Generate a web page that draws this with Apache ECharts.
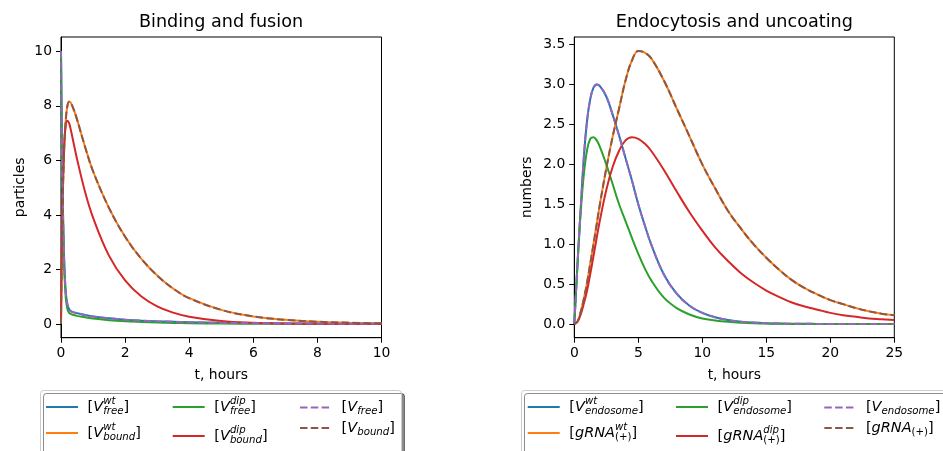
<!DOCTYPE html>
<html>
<head>
<meta charset="utf-8">
<script src="https://cdn.jsdelivr.net/npm/echarts@6/dist/echarts.min.js"></script>
<style>
html,body{margin:0;padding:0;background:#fff;}
#chart{width:943px;height:451px;}
</style>
</head>
<body>
<div id="chart"></div>
<script>
// ---------- data: Binding and fusion ----------
const leftT = [0, 0.02, 0.05, 0.1, 0.15, 0.2, 0.25, 0.3, 0.4, 0.5, 0.75, 1, 1.5, 2, 2.5, 3, 3.5, 4, 5, 6, 7, 8, 9, 10];
const leftVfreeWt  = [10, 7.5, 4.9, 2.3, 1.15, 0.72, 0.55, 0.48, 0.43, 0.40, 0.33, 0.28, 0.21, 0.16, 0.125, 0.10, 0.08, 0.065, 0.045, 0.032, 0.024, 0.018, 0.014, 0.011];
const leftVboundWt = [0, 2.1, 4.3, 6.45, 7.5, 8.0, 8.15, 8.12, 7.85, 7.5, 6.5, 5.6, 4.25, 3.2, 2.4, 1.78, 1.3, 0.95, 0.52, 0.28, 0.155, 0.085, 0.048, 0.027];
const leftVfreeDip = [10, 7.4, 4.7, 2.1, 0.95, 0.55, 0.42, 0.37, 0.33, 0.30, 0.25, 0.2, 0.14, 0.1, 0.075, 0.055, 0.042, 0.032, 0.019, 0.012, 0.008, 0.005, 0.003, 0.002];
const leftVboundDip = [0, 2.3, 4.6, 6.55, 7.3, 7.45, 7.37, 7.15, 6.6, 6.05, 4.85, 3.9, 2.5, 1.6, 1.02, 0.65, 0.42, 0.27, 0.11, 0.045, 0.02, 0.009, 0.004, 0.002];
const leftVfree  = [10, 7.5, 4.9, 2.3, 1.15, 0.72, 0.55, 0.48, 0.43, 0.40, 0.33, 0.28, 0.21, 0.16, 0.125, 0.10, 0.08, 0.065, 0.045, 0.032, 0.024, 0.018, 0.014, 0.011];
const leftVbound = [0, 2.1, 4.3, 6.45, 7.5, 8.0, 8.15, 8.12, 7.85, 7.5, 6.5, 5.6, 4.25, 3.2, 2.4, 1.78, 1.3, 0.95, 0.52, 0.28, 0.155, 0.085, 0.048, 0.027];
const leftXTicks = [0, 2, 4, 6, 8, 10];
const leftYTicks = [0, 2, 4, 6, 8, 10];

// ---------- data: Endocytosis and uncoating ----------
const rightT = [0, 0.25, 0.5, 0.75, 1, 1.25, 1.5, 1.75, 2, 2.5, 3, 3.5, 4, 4.5, 5, 5.5, 6, 7, 8, 9, 10, 11, 12, 13, 14, 15, 16, 17, 18, 19, 20, 21, 22, 23, 24, 25];
const rightVendoWt = [0, 0.75, 1.45, 2.1, 2.55, 2.82, 2.96, 3.0, 2.98, 2.85, 2.62, 2.36, 2.08, 1.8, 1.5, 1.24, 1.0, 0.62, 0.38, 0.23, 0.14, 0.085, 0.05, 0.03, 0.018, 0.011, 0.007, 0.004, 0.003, 0.002, 0.001, 0.001, 0.001, 0, 0, 0];
const rightGrnaWt = [0, 0.03, 0.15, 0.32, 0.52, 0.76, 1.0, 1.25, 1.5, 1.95, 2.35, 2.7, 3.05, 3.3, 3.42, 3.4, 3.33, 3.05, 2.7, 2.35, 2.0, 1.7, 1.42, 1.2, 1.0, 0.83, 0.68, 0.55, 0.45, 0.37, 0.3, 0.25, 0.2, 0.16, 0.13, 0.11];
const rightVendoDip = [0, 0.75, 1.4, 1.88, 2.18, 2.32, 2.34, 2.3, 2.22, 2.0, 1.75, 1.5, 1.29, 1.08, 0.88, 0.7, 0.55, 0.33, 0.2, 0.12, 0.07, 0.045, 0.028, 0.017, 0.01, 0.006, 0.004, 0.002, 0.001, 0, 0, 0, 0, 0, 0, 0];
const rightGrnaDip = [0, 0.03, 0.12, 0.26, 0.42, 0.63, 0.85, 1.08, 1.3, 1.68, 1.97, 2.17, 2.3, 2.34, 2.32, 2.26, 2.17, 1.93, 1.66, 1.4, 1.17, 0.96, 0.79, 0.64, 0.52, 0.42, 0.34, 0.27, 0.22, 0.18, 0.14, 0.11, 0.09, 0.07, 0.06, 0.05];
const rightVendo = [0, 0.75, 1.45, 2.1, 2.55, 2.82, 2.96, 3.0, 2.98, 2.85, 2.62, 2.36, 2.08, 1.8, 1.5, 1.24, 1.0, 0.62, 0.38, 0.23, 0.14, 0.085, 0.05, 0.03, 0.018, 0.011, 0.007, 0.004, 0.003, 0.002, 0.001, 0.001, 0.001, 0, 0, 0];
const rightGrna = [0, 0.03, 0.15, 0.32, 0.52, 0.76, 1.0, 1.25, 1.5, 1.95, 2.35, 2.7, 3.05, 3.3, 3.42, 3.4, 3.33, 3.05, 2.7, 2.35, 2.0, 1.7, 1.42, 1.2, 1.0, 0.83, 0.68, 0.55, 0.45, 0.37, 0.3, 0.25, 0.2, 0.16, 0.13, 0.11];
const rightXTicks = [0, 5, 10, 15, 20, 25];
const rightYTicks = [0, 0.5, 1.0, 1.5, 2.0, 2.5, 3.0, 3.5];

const titles = ['Binding and fusion', 'Endocytosis and uncoating'];
const xNames = ['t, hours', 't, hours'];
const yNames = ['particles', 'numbers'];

// ---------- styling ----------
const FONT = 'DejaVu Sans';
const C = {blue:'#1f77b4', orange:'#ff7f0e', green:'#2ca02c', red:'#d62728', purple:'#9467bd', brown:'#8c564b'};
const TICK_FS = 13.9;

const legendLabels = {
  L1: '{b| [}{v|V}{sp|wt}{sb|free}{b|]}',
  L2: '{b| [}{v|V}{sp|wt}{sb|bound}{b|]}',
  L3: '{b| [}{v|V}{sp|dip}{sb|free}{b|]}',
  L4: '{b| [}{v|V}{sp|dip}{sb|bound}{b|]}',
  L5: '{b| [}{v|V}{sb|free}{b|]}',
  L6: '{b| [}{v|V}{sb|bound}{b|]}',
  R1: '{b| [}{v|V}{sp|wt}{sb|endosome}{b|]}',
  R2: '{b| [}{v|gRNA}{sp|wt}{su|(+)}{b|]}',
  R3: '{b| [}{v|V}{sp|dip}{sb|endosome}{b|]}',
  R4: '{b| [}{v|gRNA}{sp|dip}{su|(+)}{b|]}',
  R5: '{b| [}{v|V}{sb|endosome}{b|]}',
  R6: '{b| [}{v|gRNA}{su|(+)}{b|]}'
};
const rich = {
  b:  {fontFamily: FONT, fontSize: 14.5, lineHeight: 22, color: '#000'},
  v:  {fontFamily: FONT, fontSize: 14.5, fontStyle: 'italic', lineHeight: 22, color: '#000'},
  sp: {fontFamily: FONT, fontSize: 10.2, fontStyle: 'italic', width: 0, height: 10, lineHeight: 10, verticalAlign: 'top', color: '#000'},
  sb: {fontFamily: FONT, fontSize: 10.2, fontStyle: 'italic', height: 14, lineHeight: 10, verticalAlign: 'bottom', color: '#000'},
  su: {fontFamily: FONT, fontSize: 10.2, height: 14, lineHeight: 10, verticalAlign: 'bottom', color: '#000'}
};

function mkSeries(id, x, y, color, dashed, gi) {
  return {
    id: id, name: id, type: 'line', xAxisIndex: gi, yAxisIndex: gi,
    data: x.map((t, i) => [t, y[i]]),
    symbol: 'none', smooth: 0.4,
    lineStyle: {color: color, width: 2, type: dashed ? [7.5, 3.3] : 'solid'},
    itemStyle: {color: color},
    emphasis: {disabled: true},
    z: dashed ? 3 : 2
  };
}
const series = [
  mkSeries('L1', leftT, leftVfreeWt, C.blue, false, 0),
  mkSeries('L2', leftT, leftVboundWt, C.orange, false, 0),
  mkSeries('L3', leftT, leftVfreeDip, C.green, false, 0),
  mkSeries('L4', leftT, leftVboundDip, C.red, false, 0),
  mkSeries('L5', leftT, leftVfree, C.purple, true, 0),
  mkSeries('L6', leftT, leftVbound, C.brown, true, 0),
  mkSeries('R1', rightT, rightVendoWt, C.blue, false, 1),
  mkSeries('R2', rightT, rightGrnaWt, C.orange, false, 1),
  mkSeries('R3', rightT, rightVendoDip, C.green, false, 1),
  mkSeries('R4', rightT, rightGrnaDip, C.red, false, 1),
  mkSeries('R5', rightT, rightVendo, C.purple, true, 1),
  mkSeries('R6', rightT, rightGrna, C.brown, true, 1)
];

function mkLegend(names, left, top, gap) {
  return {
    data: names, left: left, top: top, orient: 'vertical', padding: 0,
    itemWidth: 32, itemHeight: 0.3, itemGap: gap, selectedMode: false,
    itemStyle: {borderWidth: 0},
    formatter: n => legendLabels[n],
    textStyle: {fontFamily: FONT, fontSize: 14.5, color: '#000', rich: rich}
  };
}

const grids = [
  {left: 61, top: 37, width: 320.5, height: 300.7},
  {left: 574.3, top: 37, width: 320, height: 300.7}
];

function mkX(gi, max, ticks) {
  return {
    type: 'value', gridIndex: gi, min: 0, max: max,
    name: xNames[gi], nameLocation: 'middle', nameGap: 31,
    nameTextStyle: {fontFamily: FONT, fontSize: TICK_FS, color: '#000'},
    axisLine: {show: true, onZero: false, lineStyle: {color: '#000', width: 1}},
    axisTick: {show: true, length: 5, lineStyle: {color: '#000', width: 1}, customValues: ticks},
    axisLabel: {fontFamily: FONT, fontSize: TICK_FS, color: '#000', margin: 9, customValues: ticks},
    splitLine: {show: false}
  };
}
function mkY(gi, min, max, ticks, gap, fmt) {
  return {
    type: 'value', gridIndex: gi, min: min, max: max,
    name: yNames[gi], nameLocation: 'middle', nameGap: gap,
    nameTextStyle: {fontFamily: FONT, fontSize: TICK_FS, color: '#000'},
    axisLine: {show: true, onZero: false, lineStyle: {color: '#000', width: 1}},
    axisTick: {show: true, length: 5, lineStyle: {color: '#000', width: 1}, customValues: ticks},
    axisLabel: {fontFamily: FONT, fontSize: TICK_FS, color: '#000', margin: 9, customValues: ticks, formatter: fmt},
    splitLine: {show: false}
  };
}

const option = {
  animation: false,
  backgroundColor: '#fff',
  title: [
    {text: titles[0], left: 221, top: 13, textAlign: 'center', padding: 0,
     textStyle: {fontFamily: FONT, fontSize: 17.6, fontWeight: 'normal', color: '#000'}},
    {text: titles[1], left: 734.3, top: 13, textAlign: 'center', padding: 0,
     textStyle: {fontFamily: FONT, fontSize: 17.6, fontWeight: 'normal', color: '#000'}}
  ],
  grid: grids.map(g => Object.assign({show: true, borderColor: '#000', borderWidth: 1, backgroundColor: 'transparent'}, g)),
  xAxis: [mkX(0, 10, leftXTicks), mkX(1, 25, rightXTicks)],
  yAxis: [
    mkY(0, -0.5, 10.52, leftYTicks, 34, v => String(v)),
    mkY(1, -0.171, 3.595, rightYTicks, 40, v => v.toFixed(1))
  ],
  legend: [
    mkLegend(['L1', 'L2'], 45, 396, 4), mkLegend(['L3', 'L4'], 171.7, 396, 7), mkLegend(['L5', 'L6'], 299, 400, 2),
    mkLegend(['R1', 'R2'], 526.7, 396, 4), mkLegend(['R3', 'R4'], 675, 396, 7), mkLegend(['R5', 'R6'], 823.3, 400, 2)
  ],
  graphic: [
    {type: 'rect', z: 1, silent: true, shape: {x: 40.5, y: 390.5, width: 361, height: 80, r: 3},
     style: {fill: '#fff', stroke: '#cccccc', lineWidth: 1, shadowColor: 'rgba(0,0,0,0.45)', shadowOffsetX: 3, shadowOffsetY: 3, shadowBlur: 0}},
    {type: 'rect', z: 1, silent: true, shape: {x: 521.5, y: 390.5, width: 440, height: 80, r: 3},
     style: {fill: '#fff', stroke: '#cccccc', lineWidth: 1, shadowColor: 'rgba(0,0,0,0.45)', shadowOffsetX: 3, shadowOffsetY: 3, shadowBlur: 0}}
  ],
  series: series
};

const chart = echarts.init(document.getElementById('chart'), null, {renderer: 'canvas'});
chart.setOption(option);
</script>
</body>
</html>
